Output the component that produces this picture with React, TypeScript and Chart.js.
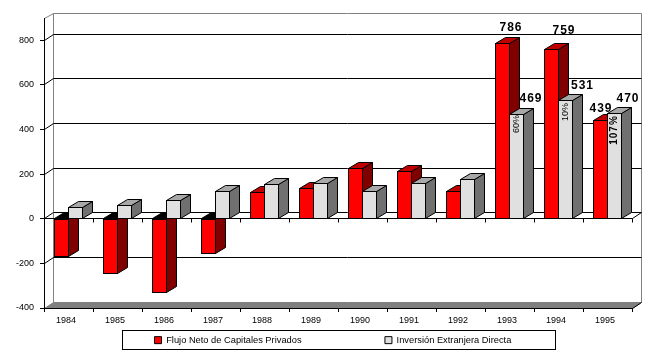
import React, { useEffect, useRef } from "react";
import { Chart, registerables } from "chart.js";

Chart.register(...registerables);

const years = ["1984", "1985", "1986", "1987", "1988", "1989", "1990", "1991", "1992", "1993", "1994", "1995"];
const flujoNeto = [-167, -246, -331, -157, 116, 134, 224, 210, 121, 786, 759, 439];
const inversionDirecta = [49, 58, 82, 121, 152, 157, 121, 157, 175, 469, 531, 470];
const percentLabels: [number, string][] = [[9, "60%"], [10, "10%"], [11, "107%"]];
const valueLabelYears = [9, 10, 11];

const FONT = '"Liberation Sans", Arial, sans-serif';
const WALL_DX = 9;
const WALL_DY = 6;
const BAR_DX = 10;
const BAR_DY = 6;
const snap = (p: number) => Math.round(p - 0.5) + 0.5;

const faceColors = [
  { top: "#c00000", side: "#800000" },
  { top: "#a8a8a8", side: "#707070" },
];
// label nudges relative to each bar's top centre: [dx, dy]
const valueNudge = [
  [[8.5, -15], [12.5, -18], [0.5, -11]],
  [[14.5, -15], [17, -14], [13.5, -14.5]],
];
const percentNudge = [10, 12, 17];

function poly(ctx: CanvasRenderingContext2D, pts: number[][], fill: string | null, stroke: string | null) {
  ctx.beginPath();
  pts.forEach((p, i) => (i ? ctx.lineTo(p[0], p[1]) : ctx.moveTo(p[0], p[1])));
  ctx.closePath();
  if (fill) {
    ctx.fillStyle = fill;
    ctx.fill();
  }
  if (stroke) {
    ctx.strokeStyle = stroke;
    ctx.lineWidth = 1;
    ctx.stroke();
  }
}

function seg(ctx: CanvasRenderingContext2D, x0: number, y0: number, x1: number, y1: number, color: string) {
  ctx.beginPath();
  ctx.moveTo(x0, y0);
  ctx.lineTo(x1, y1);
  ctx.strokeStyle = color;
  ctx.lineWidth = 1;
  ctx.stroke();
}

const threeD = {
  id: "threeD",
  beforeLayout(chart: any) {
    const lg = chart.legend;
    if (!lg._wrappedFit) {
      const fit = lg.fit;
      lg.fit = function () {
        fit.call(this);
        this.height = 1;
      };
      lg._wrappedFit = true;
    }
  },
  afterLayout(chart: any) {
    const lg = chart.legend;
    lg.left = 71.1;
    lg.right = 654;
    lg.top = 252.1;
    lg.bottom = 351;
  },
  afterDatasetsUpdate(chart: any) {
    chart.data.datasets.forEach((_d: any, di: number) => {
      chart.getDatasetMeta(di).data.forEach((el: any) => {
        el.width = 15;
        el.y = el.y < el.base ? Math.floor(el.y) : Math.ceil(el.y);
        el.base = Math.round(chart.scales.y.getPixelForValue(0));
      });
    });
  },
  beforeDraw(chart: any) {
    const { ctx, scales } = chart;
    const { x, y } = scales;
    const L = x.left + 0.5;
    const R = x.right + 0.5;
    const B = snap(y.bottom);
    const T = snap(y.top);
    ctx.save();
    // floor
    poly(ctx, [[L, B], [L + WALL_DX, B - WALL_DY], [R + WALL_DX, B - WALL_DY], [R, B]], "#808080", "#808080");
    // back wall frame
    seg(ctx, L + WALL_DX, B - WALL_DY, L + WALL_DX, T - 5, "#808080");
    seg(ctx, L + WALL_DX, T - 5, R + WALL_DX, T - 5, "#808080");
    seg(ctx, R + WALL_DX, T - 5, R + WALL_DX, B - WALL_DY, "#808080");
    seg(ctx, L, T, L + WALL_DX, T - 5, "#808080");
    // gridlines on the wall, joined to the axis ticks
    y.ticks.forEach((t: any) => {
      if (t.value === y.min) return;
      const py = snap(y.getPixelForValue(t.value));
      seg(ctx, L, py, L + WALL_DX, py - WALL_DY, "#000");
      seg(ctx, L + WALL_DX, py - WALL_DY, R + WALL_DX, py - WALL_DY, "#000");
    });
    seg(ctx, R, B, R + WALL_DX, B - WALL_DY, "#000");
    ctx.restore();
  },
  beforeDatasetsDraw(chart: any) {
    const { ctx, scales } = chart;
    const { x, y } = scales;
    const zero = snap(y.getPixelForValue(0));
    ctx.save();
    const L = x.left + 0.5;
    const R = x.right + 0.5;
    seg(ctx, R, zero, R + WALL_DX, zero - WALL_DY, "#000");
    seg(ctx, L, zero, R, zero, "#000");
    // ticks below the zero plane, at category boundaries
    const step = x.width / years.length;
    for (let i = 0; i <= years.length; i++) {
      const px = snap(x.left + i * step);
      seg(ctx, px, zero, px, zero + 4, "#000");
    }
    // depth faces of every bar
    chart.data.datasets.forEach((_d: any, di: number) => {
      const c = faceColors[di];
      chart.getDatasetMeta(di).data.forEach((el: any) => {
        const right = el.x + el.width / 2 - 0.5;
        const left = el.x - el.width / 2 + 0.5;
        const neg = el.y > el.base;
        const top = (neg ? el.base : el.y) + 0.5 - (neg ? 1 : 0);
        const bot = (neg ? el.y : el.base) - 0.5;
        poly(ctx, [[right, top], [right + BAR_DX, top - BAR_DY], [right + BAR_DX, bot - BAR_DY], [right, bot]], c.side, "#000");
        poly(ctx, [[left, top], [left + BAR_DX, top - BAR_DY], [right + BAR_DX, top - BAR_DY], [right, top]], neg ? "#000" : c.top, "#000");
      });
    });
    ctx.restore();
  },
  afterDatasetsDraw(chart: any) {
    const ctx = chart.ctx;
    ctx.save();
    ctx.fillStyle = "#000";
    ctx.textAlign = "center";
    ctx.textBaseline = "middle";
    // rotated percentages inside the grey bars
    const grey = chart.getDatasetMeta(1).data;
    percentLabels.forEach(([i, text], k) => {
      const el = grey[i];
      ctx.save();
      ctx.translate(el.x, el.y + percentNudge[k]);
      ctx.rotate(-Math.PI / 2);
      const strong = text.length > 3;
      ctx.font = `${strong ? "bold 10px" : "9px"} ${FONT}`;
      (ctx as any).letterSpacing = strong ? "1px" : "0px";
      ctx.fillText(text, 0, 0);
      ctx.restore();
    });
    // value labels above the bars
    ctx.font = `bold 12px ${FONT}`;
    (ctx as any).letterSpacing = "1px";
    [flujoNeto, inversionDirecta].forEach((series, di) => {
      const meta = chart.getDatasetMeta(di).data;
      valueLabelYears.forEach((i, k) => {
        const el = meta[i];
        const n = valueNudge[di][k];
        ctx.fillText(String(series[i]), el.x + n[0], el.y + n[1]);
      });
    });
    ctx.restore();
    // legend frame
    ctx.save();
    ctx.strokeStyle = "#000";
    ctx.lineWidth = 1;
    ctx.strokeRect(122.5, 330.5, 433, 19);
    ctx.restore();
  },
};

export default function App() {
  const ref = useRef<HTMLCanvasElement>(null);
  useEffect(() => {
    const chart = new Chart(ref.current!, {
      type: "bar",
      data: {
        labels: years,
        datasets: [
          { label: "Flujo Neto de Capitales Privados", data: flujoNeto, backgroundColor: "#ff0000", borderColor: "#000", borderWidth: 1, borderSkipped: false },
          { label: "Inversión Extranjera Directa", data: inversionDirecta, backgroundColor: "#e0e0e0", borderColor: "#000", borderWidth: 1, borderSkipped: false },
        ],
      },
      options: {
        responsive: false,
        animation: false,
        events: [],
        layout: { padding: { top: 18, right: 22, left: 0, bottom: 0 } },
        datasets: { bar: { categoryPercentage: 28 / 49, barPercentage: 1 } },
        plugins: {
          title: { display: false },
          tooltip: { enabled: false },
          legend: {
            display: true,
            position: "bottom",
            align: "start",
            labels: { boxWidth: 7, boxHeight: 7, padding: 83.4, color: "#000", font: { family: FONT, size: 9.3 } },
          },
        },
        scales: {
          x: {
            offset: true,
            grid: { offset: true, drawOnChartArea: false, color: "#000", tickLength: 4 },
            border: { color: "#000" },
            ticks: { color: "#000", padding: 3, labelOffset: -2.5, maxRotation: 0, autoSkip: false, font: { family: FONT, size: 9 } },
            afterFit: (s: any) => {
              s.height = 44;
            },
          },
          y: {
            min: -400,
            max: 900,
            grid: { drawOnChartArea: false, color: "#000", tickLength: 4 },
            border: { color: "#000" },
            ticks: { stepSize: 200, color: "#000", padding: 6, font: { family: FONT, size: 9 } },
            afterBuildTicks: (s: any) => {
              s.ticks = s.ticks.filter((t: any) => t.value !== 900);
            },
            afterFit: (s: any) => {
              s.width = 44;
            },
          },
        },
      } as any,
      plugins: [threeD as any],
    });
    return () => chart.destroy();
  }, []);
  return (
    <canvas
      ref={ref}
      width={654}
      height={353}
      style={{ position: "fixed", left: 0, top: 0, width: 654, height: 353, display: "block" }}
    />
  );
}
